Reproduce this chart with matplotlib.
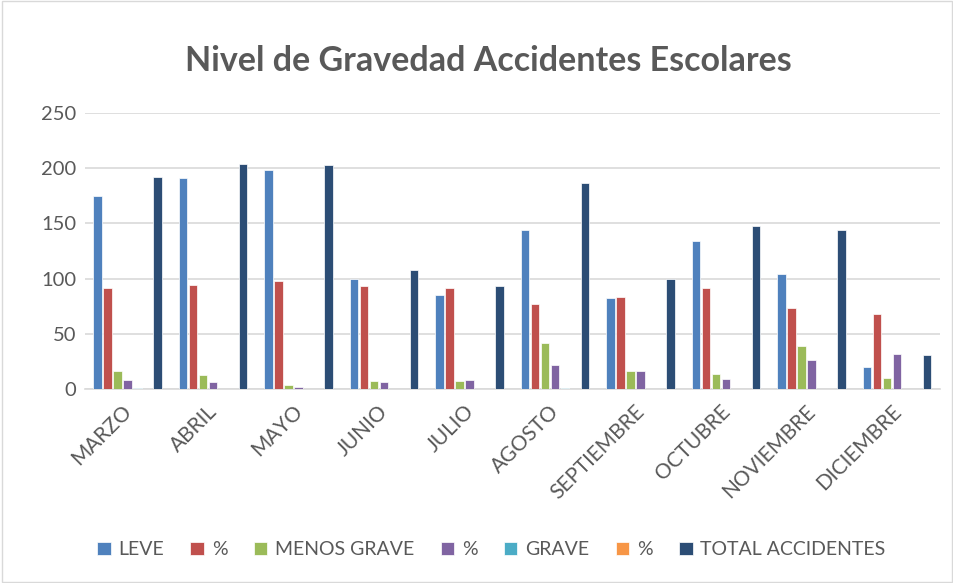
import numpy as np
import matplotlib
matplotlib.use("Agg")
import matplotlib.pyplot as plt
import matplotlib.transforms as mtransforms

plt.rcParams['font.family'] = ['Lato', 'DejaVu Sans']

meses = ["MARZO", "ABRIL", "MAYO", "JUNIO", "JULIO", "AGOSTO",
         "SEPTIEMBRE", "OCTUBRE", "NOVIEMBRE", "DICIEMBRE"]

leve = [175, 191, 198, 100, 85, 144, 82, 134, 104.5, 20]
pct_leve = [91, 94, 98, 93, 91, 77, 83, 91, 73, 68]
menos_grave = [16, 13, 3.5, 7.5, 7.5, 42, 16.5, 13.5, 38.5, 9.5]
pct_menos = [8, 6, 1.5, 6.5, 8, 22, 16.5, 9, 26.5, 32]
grave = [0.4, 0, 0.3, 0, 0, 0.5, 0, 0, 0, 0]
pct_grave = [0.3, 0, 0.2, 0, 0, 0.3, 0, 0, 0, 0]
total = [192, 204, 203, 107.5, 93, 187, 100, 147.5, 144, 30.5]

series = [
    ("LEVE", leve, "#4F81BD"),
    ("%", pct_leve, "#C0504D"),
    ("MENOS GRAVE", menos_grave, "#9BBB59"),
    ("%", pct_menos, "#8064A2"),
    ("GRAVE", grave, "#4BACC6"),
    ("%", pct_grave, "#F79646"),
    ("TOTAL ACCIDENTES", total, "#2C4D75"),
]

fig = plt.figure(figsize=(9.54, 5.83), dpi=100)
ax = fig.add_axes([0.089, 0.333, 0.896, 0.473])

x = np.arange(len(meses))
n = len(series)
pitch = 0.117
bw = 0.10
for i, (name, vals, col) in enumerate(series):
    off = (i - (n - 1) / 2) * pitch
    ax.bar(x + off, vals, width=bw, color=col, edgecolor="white",
           linewidth=0.5, label=name, zorder=3)

ax.set_xlim(-0.5, len(meses) - 0.5)
ax.set_ylim(0, 250)
ax.set_yticks(range(0, 251, 50))
ax.yaxis.grid(True, color="#D9D9D9", linewidth=1.2, zorder=0)
ax.set_axisbelow(True)
for s in ["top", "right", "left"]:
    ax.spines[s].set_visible(False)
ax.spines["bottom"].set_color("#D9D9D9")
ax.spines["bottom"].set_linewidth(1.2)
ax.tick_params(axis="y", length=0, colors="#595959", labelsize=14.5, pad=6)
ax.tick_params(axis="x", length=0, colors="#595959", labelsize=15, pad=9)
ax.set_xticks(x)
ax.set_xticklabels(meses, rotation=45, ha="right", rotation_mode="anchor")
shift = mtransforms.ScaledTranslation(-6 / 100, 0, fig.dpi_scale_trans)
for lbl in ax.get_xticklabels():
    lbl.set_transform(lbl.get_transform() + shift)

fig.text(0.512, 0.895, "Nivel de Gravedad Accidentes Escolares", ha="center",
         va="center", fontsize=24.5, fontweight="bold", color="#595959")

ax.legend(loc="center", bbox_to_anchor=(0.515, 0.057), bbox_transform=fig.transFigure,
          ncol=7, frameon=False, fontsize=14, labelcolor="#595959",
          handlelength=0.7, handleheight=0.7, handletextpad=0.4, columnspacing=1.35)

fig.patches.append(plt.Rectangle((0.002, 0.002), 0.996, 0.996, transform=fig.transFigure,
                                 fill=False, edgecolor="#D9D9D9", linewidth=1))

fig.savefig("out.png", dpi=100)
